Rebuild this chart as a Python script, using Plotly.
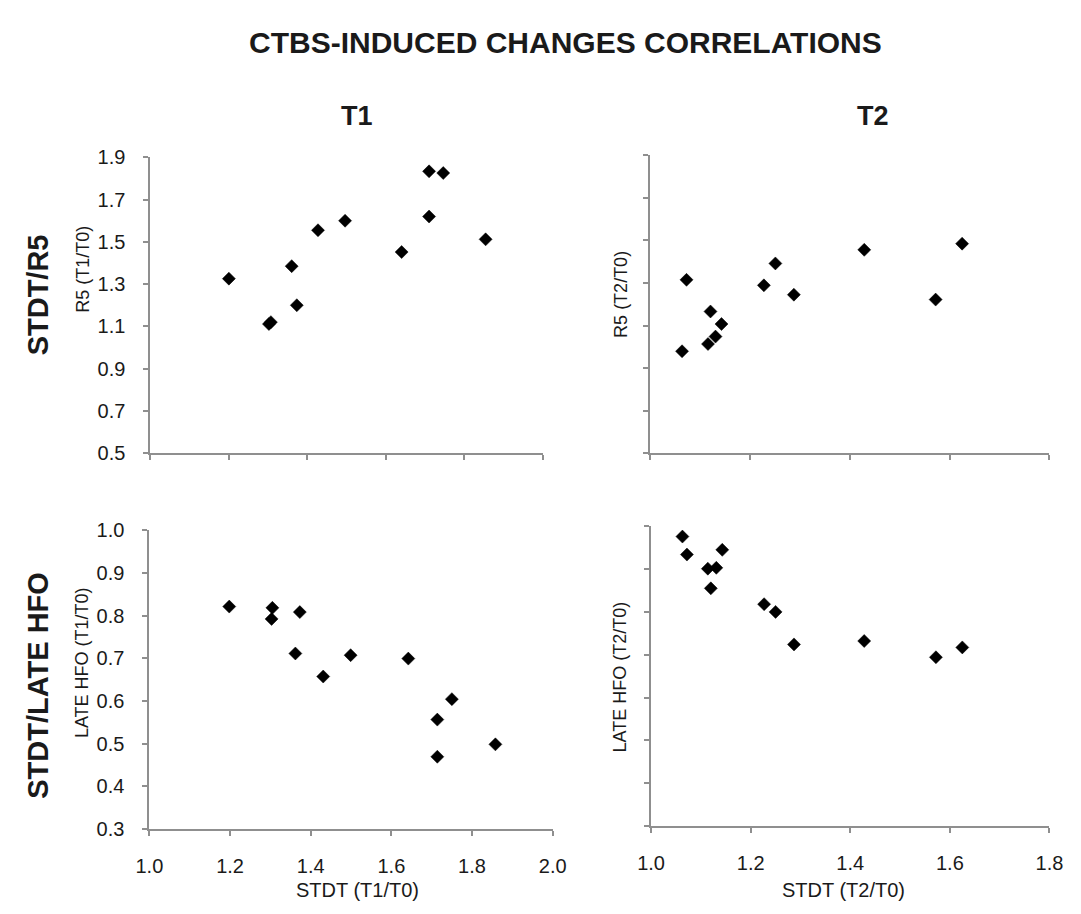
import plotly.graph_objects as go

# ---------------- data ----------------
stdt_t1_r5 = [1.200, 1.302, 1.307, 1.360, 1.373, 1.427, 1.496, 1.640, 1.710, 1.710, 1.746, 1.854]
r5_t1 = [1.326, 1.111, 1.120, 1.385, 1.200, 1.555, 1.600, 1.452, 1.620, 1.834, 1.826, 1.512]

stdt_t2_r5 = [1.064, 1.073, 1.116, 1.121, 1.131, 1.143, 1.228, 1.251, 1.288, 1.429, 1.572, 1.625]
r5_t2 = [0.979, 1.315, 1.013, 1.166, 1.048, 1.107, 1.289, 1.392, 1.245, 1.456, 1.222, 1.485]

stdt_t1_hfo = [1.198, 1.305, 1.303, 1.373, 1.362, 1.431, 1.499, 1.642, 1.750, 1.714, 1.714, 1.858]
hfo_t1 = [0.821, 0.818, 0.792, 0.808, 0.711, 0.657, 0.707, 0.699, 0.604, 0.556, 0.469, 0.498]

stdt_t2_hfo = [1.063, 1.072, 1.114, 1.131, 1.120, 1.143, 1.227, 1.250, 1.287, 1.428, 1.572, 1.625]
hfo_t2 = [0.976, 0.934, 0.901, 0.903, 0.855, 0.945, 0.818, 0.800, 0.724, 0.732, 0.694, 0.717]

x_ticks_t1 = [1.0, 1.2, 1.4, 1.6, 1.8, 2.0]
x_ticks_t2 = [1.0, 1.2, 1.4, 1.6, 1.8]
y_ticks_r5 = [0.5, 0.7, 0.9, 1.1, 1.3, 1.5, 1.7, 1.9]
y_ticks_hfo = [0.3, 0.4, 0.5, 0.6, 0.7, 0.8, 0.9, 1.0]

main_title = "CTBS-INDUCED CHANGES CORRELATIONS"
col_titles = ["T1", "T2"]
row_titles = ["STDT/R5", "STDT/LATE HFO"]
y_titles = ["R5 (T1/T0)", "R5 (T2/T0)", "LATE HFO (T1/T0)", "LATE HFO (T2/T0)"]
x_titles = ["STDT (T1/T0)", "STDT (T2/T0)"]

# ---------------- layout helpers ----------------
W, H = 1081, 914
def px(x):
    return x / W
def py(y):
    return 1 - y / H

FONT = "Liberation Sans, Arial, sans-serif"
AXC = "#8f8f8f"
TXT = "#1a1a1a"

fig = go.Figure()

panels = [
    (stdt_t1_r5, r5_t1, "x", "y"),
    (stdt_t2_r5, r5_t2, "x2", "y2"),
    (stdt_t1_hfo, hfo_t1, "x3", "y3"),
    (stdt_t2_hfo, hfo_t2, "x4", "y4"),
]
for xs, ys, xa, ya in panels:
    fig.add_trace(go.Scatter(
        x=xs, y=ys, xaxis=xa, yaxis=ya, mode="markers",
        marker=dict(symbol="diamond", size=10, color="#000000",
                    line=dict(width=0.5, color="#000000")),
        showlegend=False, hoverinfo="x+y",
    ))

def xaxis(domain, anchor, ticks_vals, rng, show_labels):
    return dict(
        domain=domain, anchor=anchor, range=rng,
        tickmode="array", tickvals=ticks_vals,
        ticktext=[f"{v:.1f}" for v in ticks_vals],
        showticklabels=show_labels,
        ticks="outside", ticklen=5, tickwidth=1.5, tickcolor=AXC,
        showline=True, linecolor=AXC, linewidth=2,
        showgrid=False, zeroline=False,
        tickfont=dict(family=FONT, size=20, color=TXT),
        ticklabelstandoff=13,
    )

def yaxis(domain, anchor, ticks_vals, rng, show_labels):
    return dict(
        domain=domain, anchor=anchor, range=rng,
        tickmode="array", tickvals=ticks_vals,
        ticktext=[f"{v:.1f}" for v in ticks_vals],
        showticklabels=show_labels,
        ticks="outside", ticklen=5, tickwidth=1.5, tickcolor=AXC,
        showline=True, linecolor=AXC, linewidth=2,
        showgrid=False, zeroline=False,
        tickfont=dict(family=FONT, size=20, color=TXT),
        ticklabelstandoff=14,
    )

fig.update_layout(
    width=W, height=H, autosize=False,
    margin=dict(l=0, r=0, t=0, b=0),
    paper_bgcolor="white", plot_bgcolor="white",
    xaxis=xaxis([px(140), px(543)], "y", x_ticks_t1, [1.0, 2.0], False),
    yaxis=yaxis([py(453), py(150)], "x", y_ticks_r5, [0.5, 1.9], True),
    xaxis2=xaxis([px(653), px(1063)], "y2", x_ticks_t2, [1.0, 1.8], False),
    yaxis2=yaxis([py(453), py(148)], "x2", y_ticks_r5, [0.5, 1.9], False),
    xaxis3=xaxis([px(139), px(553)], "y3", x_ticks_t1, [1.0, 2.0], True),
    yaxis3=yaxis([py(838), py(532)], "x3", y_ticks_hfo, [0.3, 1.0], True),
    xaxis4=xaxis([px(654), px(1063)], "y4", x_ticks_t2, [1.0, 1.8], True),
    yaxis4=yaxis([py(835), py(528)], "x4", y_ticks_hfo, [0.3, 1.0], False),
)

ann = []
def add_text(text, x, y, size, bold=False, angle=0, color=TXT):
    t = f"<b>{text}</b>" if bold else text
    ann.append(dict(text=t, x=px(x), y=py(y), xref="paper", yref="paper",
                    showarrow=False, textangle=angle, xanchor="center", yanchor="middle",
                    font=dict(family=FONT, size=size, color=color)))

add_text(main_title, 566, 32, 30, bold=True)
add_text(col_titles[0], 352, 108, 27, bold=True)
add_text(col_titles[1], 882, 108, 27, bold=True)
add_text(row_titles[0], 25, 291, 29, bold=True, angle=-90)
add_text(row_titles[1], 25, 691, 29, bold=True, angle=-90)
add_text(y_titles[0], 70, 265, 18, angle=-90)
add_text(y_titles[1], 623, 290, 18, angle=-90)
add_text(y_titles[2], 70, 668, 18, angle=-90)
add_text(y_titles[3], 622, 682, 18, angle=-90)
add_text(x_titles[0], 353, 901, 20)
add_text(x_titles[1], 852, 901, 20)

fig.update_layout(annotations=ann)
fig.write_html("out.html")
